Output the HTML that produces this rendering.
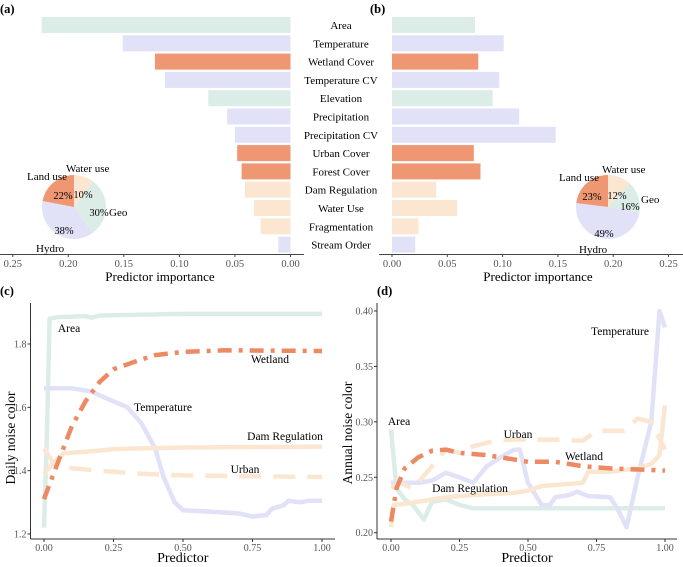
<!DOCTYPE html>
<html><head><meta charset="utf-8"><style>
body{margin:0;background:#fff}
svg,svg text{font-family:"Liberation Serif","DejaVu Serif",serif}
</style></head><body>
<svg id="fig" width="683" height="562" viewBox="0 0 683 562" xmlns="http://www.w3.org/2000/svg"></svg>
<script>
const predictors=["Area","Temperature","Wetland Cover","Temperature CV","Elevation","Precipitation","Precipitation CV","Urban Cover","Forest Cover","Dam Regulation","Water Use","Fragmentation","Stream Order"];
const groups=["geo","hydro","land","hydro","geo","hydro","hydro","land","land","water","water","water","hydro"];
const impA=[0.224,0.151,0.122,0.113,0.074,0.057,0.050,0.048,0.044,0.041,0.033,0.027,0.011];
const impB=[0.075,0.101,0.078,0.097,0.091,0.115,0.148,0.074,0.080,0.040,0.059,0.024,0.021];
const pieLabels=["Water use","Geo","Hydro","Land use"];
const pieA=[10,30,38,22];
const pieB=[12,16,49,23];
const impTicks=[0,0.05,0.10,0.15,0.20,0.25];
const xTicks=[0,0.25,0.5,0.75,1];
const cYTicks=[1.2,1.4,1.6,1.8];
const dYTicks=[0.20,0.25,0.30,0.35,0.40];
const cArea=[[0,1.22],[0.01,1.5],[0.02,1.88],[0.05,1.885],[0.15,1.888],[0.17,1.883],[0.2,1.89],[0.5,1.895],[1,1.895]];
const cWetland=[[0,1.31],[0.03,1.38],[0.1,1.54],[0.15,1.62],[0.2,1.68],[0.25,1.72],[0.33,1.745],[0.4,1.765],[0.5,1.775],[0.65,1.78],[1,1.778]];
const cTemp=[[0,1.66],[0.1,1.66],[0.17,1.65],[0.22,1.63],[0.3,1.6],[0.35,1.55],[0.4,1.47],[0.43,1.38],[0.47,1.3],[0.5,1.275],[0.6,1.27],[0.7,1.265],[0.75,1.255],[0.8,1.26],[0.82,1.28],[0.86,1.29],[0.88,1.305],[0.92,1.3],[0.95,1.305],[1,1.305]];
const cDam=[[0,1.39],[0.03,1.42],[0.07,1.455],[0.15,1.46],[0.25,1.468],[0.5,1.473],[1,1.476]];
const cUrban=[[0,1.47],[0.03,1.43],[0.07,1.41],[0.2,1.4],[0.35,1.39],[0.5,1.385],[1,1.38]];
const dArea=[[0,0.293],[0.02,0.24],[0.05,0.23],[0.08,0.225],[0.12,0.212],[0.15,0.228],[0.2,0.23],[0.25,0.225],[0.3,0.222],[1,0.222]];
const dTemp=[[0,0.245],[0.1,0.245],[0.15,0.247],[0.2,0.254],[0.25,0.25],[0.3,0.245],[0.35,0.26],[0.4,0.268],[0.45,0.275],[0.47,0.275],[0.5,0.245],[0.55,0.225],[0.58,0.225],[0.6,0.232],[0.65,0.234],[0.68,0.237],[0.72,0.233],[0.8,0.232],[0.83,0.22],[0.86,0.205],[0.9,0.25],[0.95,0.3],[0.98,0.4],[1,0.385]];
const dWetland=[[0,0.21],[0.02,0.24],[0.05,0.258],[0.1,0.268],[0.15,0.274],[0.2,0.275],[0.25,0.272],[0.35,0.27],[0.4,0.268],[0.5,0.264],[0.6,0.264],[0.7,0.26],[0.8,0.258],[1,0.256]];
const dUrban=[[0,0.24],[0.03,0.245],[0.08,0.24],[0.15,0.26],[0.2,0.275],[0.25,0.272],[0.3,0.278],[0.4,0.284],[0.5,0.284],[0.6,0.284],[0.7,0.283],[0.75,0.292],[0.85,0.292],[0.9,0.303],[0.95,0.3],[1,0.275]];
const dDam=[[0,0.205],[0.01,0.225],[0.05,0.226],[0.1,0.228],[0.2,0.232],[0.3,0.234],[0.45,0.236],[0.5,0.238],[0.55,0.242],[0.65,0.244],[0.7,0.245],[0.72,0.255],[0.8,0.255],[0.9,0.258],[0.95,0.262],[0.98,0.27],[1,0.315]];

const COL={geo:"#dcede8",hydro:"#e1e1f8",land:"#ef9672",water:"#fbe7d1"};
const pieCol=[COL.water,COL.geo,COL.hydro,COL.land];
const svg=document.getElementById('fig');
const NS="http://www.w3.org/2000/svg";
function el(t,a){const e=document.createElementNS(NS,t);for(const k in a)e.setAttribute(k,a[k]);svg.appendChild(e);return e;}
function txt(x,y,s,size,anchor,fill,name){const e=el('text',{x:x,y:y,'font-size':size,'text-anchor':anchor||'start',fill:fill||'#000','font-family':'Liberation Serif, DejaVu Serif, serif'});e.textContent=s;


return e;}

// ---- Panels a/b
const barY=i=>17+i*18.3, barH=16;
const xa=v=>290.5-v*1111, xb=v=>392+v*1106;
txt(0,13,"(a)",12.5,'start','#000','panel-a-label').setAttribute('font-weight','bold');
txt(370,13,"(b)",12.5,'start','#000','panel-b-label').setAttribute('font-weight','bold');
predictors.forEach((p,i)=>{
 const r1=el('rect',{x:xa(impA[i]),y:barY(i),width:xa(0)-xa(impA[i]),height:barH,fill:COL[groups[i]]});
 
 
 const r2=el('rect',{x:xb(0),y:barY(i),width:xb(impB[i])-xb(0),height:barH,fill:COL[groups[i]]});
 
 
 txt(341,barY(i)+12,p,11,'middle','#000','predictor-label');
});
el('line',{x1:0,x2:304,y1:254.5,y2:254.5,stroke:'#444','stroke-width':1});
el('line',{x1:379,x2:683,y1:254.5,y2:254.5,stroke:'#444','stroke-width':1});
impTicks.forEach(t=>{
 el('line',{x1:xa(t),x2:xa(t),y1:254,y2:257,stroke:'#444'});
 txt(xa(t),267,t.toFixed(2),10.5,'middle','#555','x-tick-a');
 el('line',{x1:xb(t),x2:xb(t),y1:254,y2:257,stroke:'#444'});
 txt(xb(t),267,t.toFixed(2),10.5,'middle','#555','x-tick-b');
});
txt(160,281,"Predictor importance",13,'middle','#000','x-axis-title-a');
txt(538,281,"Predictor importance",13,'middle','#000','x-axis-title-b');

function pie(cx,cy,r,vals,name,pctPos,lbls){
 let a=0;const tot=vals.reduce((s,v)=>s+v,0);
 vals.forEach((v,i)=>{
  const a0=a,a1=a+v/tot*2*Math.PI;a=a1;
  const p0=[cx+r*Math.sin(a0),cy-r*Math.cos(a0)],p1=[cx+r*Math.sin(a1),cy-r*Math.cos(a1)];
  const s=el('path',{d:`M${cx},${cy}L${p0[0]},${p0[1]}A${r},${r} 0 ${a1-a0>Math.PI?1:0} 1 ${p1[0]},${p1[1]}Z`,fill:pieCol[i]});
  
  
 });
 vals.forEach((v,i)=>txt(pctPos[i][0],pctPos[i][1],v+"%",10.5,'middle','#000',name+'-pct'));
 lbls.forEach((l,i)=>txt(l[0],l[1],pieLabels[i],11,'start','#000',name+'-label'));
}
pie(74,207,32,pieA,'pie-a',[[83,198],[99,216],[64,234],[63,199]],[[66,172],[109,216],[36,252],[27,180]]);
pie(608,207,32,pieB,'pie-b',[[617,199],[630,210],[604,237],[592,200]],[[602,173],[641,203],[579,253],[559,181]]);

// ---- Panels c/d
function linePanel(o){
 const X=v=>o.x0+v*(o.x1-o.x0), Y=v=>o.y0-(v-o.v0)/(o.v1-o.v0)*(o.y0-o.y1);
 el('line',{x1:o.ax,x2:o.ax,y1:303,y2:539,stroke:'#333'});
 el('line',{x1:o.ax,x2:o.xe,y1:539,y2:539,stroke:'#333'});
 xTicks.forEach(t=>{el('line',{x1:X(t),x2:X(t),y1:539,y2:542,stroke:'#333'});
  txt(X(t),551,t.toFixed(2),10,'middle','#555',o.n+'-x-tick');});
 o.yt.forEach(t=>{el('line',{x1:o.ax-3,x2:o.ax,y1:Y(t),y2:Y(t),stroke:'#333'});
  txt(o.ax-4,Y(t)+3.5,t.toFixed(o.dec),10,'end','#555',o.n+'-y-tick');});
 o.series.forEach(s=>{
  const p=el('path',{d:s.d.map((q,i)=>(i?'L':'M')+X(q[0]).toFixed(1)+','+Y(q[1]).toFixed(1)).join(''),fill:'none',stroke:s.c,'stroke-width':4.5,'stroke-linejoin':'round','stroke-dasharray':s.dash||'none'});
  
  
 });
 o.labels.forEach(l=>txt(l[1],l[2],l[0],11.5,'middle','#000',o.n+'-series-label'));
 txt((o.ax+o.xe)/2,562,"Predictor",14,'middle','#000',o.n+'-x-axis-title');
 const yt=txt(0,0,o.title,13.5,'middle','#000',o.n+'-y-axis-title');
 yt.setAttribute('transform',`translate(${o.tx},${o.ty}) rotate(-90)`);
}
txt(0,295,"(c)",12.5,'start','#000','panel-c-label').setAttribute('font-weight','bold');
txt(377,295,"(d)",12.5,'start','#000','panel-d-label').setAttribute('font-weight','bold');
linePanel({n:'c',ax:30.5,xe:335,x0:44,x1:322,y0:534,y1:344,v0:1.2,v1:1.8,yt:cYTicks,dec:1,tx:15,ty:438,title:"Daily noise color",
 series:[{name:'area',d:cArea,c:COL.geo},{name:'temperature',d:cTemp,c:COL.hydro},{name:'dam',d:cDam,c:COL.water},{name:'urban',d:cUrban,c:COL.water,dash:'22 12'},{name:'wetland',d:cWetland,c:'#ee8a63',dash:'14 7 4 7'}],
 labels:[["Area",69,332],["Wetland",270,363],["Temperature",163,411],["Dam Regulation",285,440],["Urban",245,473]]});
linePanel({n:'d',ax:377,xe:677,x0:391,x1:665,y0:532.7,y1:311,v0:0.2,v1:0.4,yt:dYTicks,dec:2,tx:352,ty:433,title:"Annual noise color",
 series:[{name:'area',d:dArea,c:COL.geo},{name:'temperature',d:dTemp,c:COL.hydro},{name:'dam',d:dDam,c:COL.water},{name:'urban',d:dUrban,c:COL.water,dash:'22 12'},{name:'wetland',d:dWetland,c:'#ee8a63',dash:'14 7 4 7'}],
 labels:[["Area",399,425],["Temperature",620,335],["Urban",518,438],["Wetland",584,460],["Dam Regulation",470,492]]});
</script>
</body></html>
